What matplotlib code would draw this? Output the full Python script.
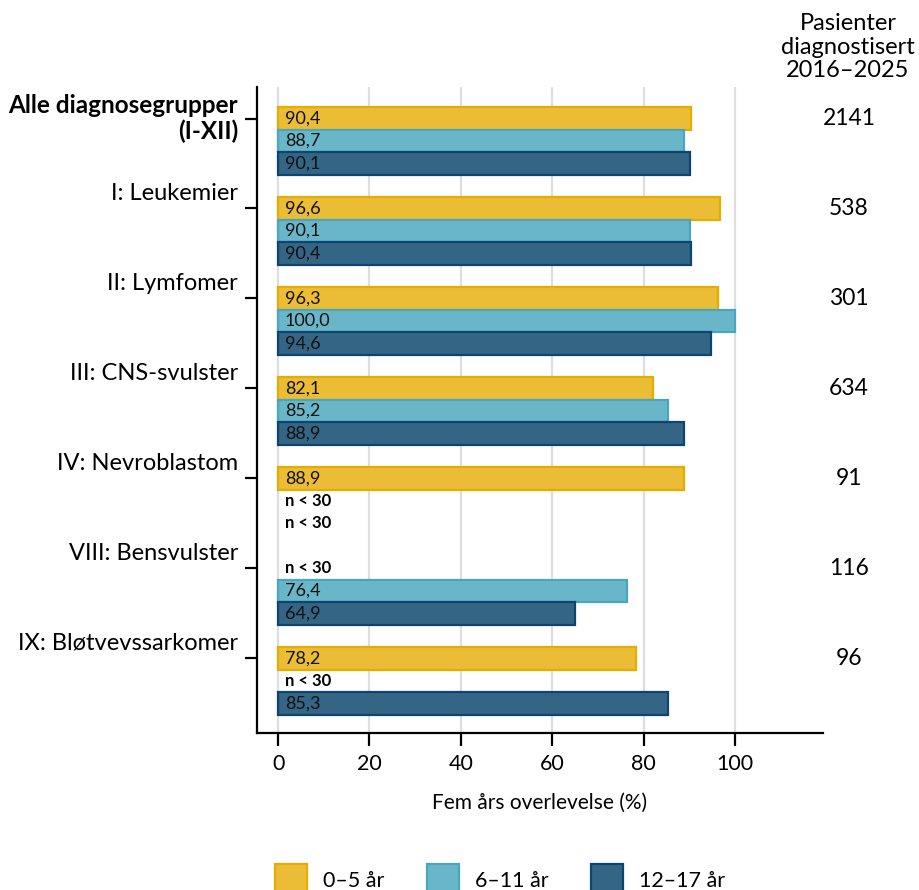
import matplotlib
matplotlib.use("Agg")
import matplotlib.pyplot as plt
import numpy as np
from matplotlib.patches import Patch
from matplotlib.transforms import offset_copy

plt.rcParams['font.family'] = ['Lato', 'DejaVu Sans']

categories = ["Alle diagnosegrupper\n(I-XII)", "I: Leukemier", "II: Lymfomer",
              "III: CNS-svulster", "IV: Nevroblastom", "VIII: Bensvulster",
              "IX: Bløtvevssarkomer"]
age_groups = ["0–5 år", "6–11 år", "12–17 år"]
surv_0_5 = [90.4, 96.6, 96.3, 82.1, 88.9, None, 78.2]
surv_6_11 = [88.7, 90.1, 100.0, 85.2, None, 76.4, None]
surv_12_17 = [90.1, 90.4, 94.6, 88.9, None, 64.9, 85.3]
patients = [2141, 538, 301, 634, 91, 116, 96]
x_ticks = [0, 20, 40, 60, 80, 100]

fills = ["#EBBD37", "#69B6C8", "#346584"]
edges = ["#E6AC00", "#4AA6C0", "#0E4470"]

fig = plt.figure(figsize=(9.19, 8.90), dpi=100)
ax = fig.add_axes([0.2797, 0.1764, 0.8955 - 0.2797, 0.9022 - 0.1764])

bar_h = 0.25
offsets = [-bar_h, 0.0, bar_h]
series = [surv_0_5, surv_6_11, surv_12_17]
y_base = np.arange(len(categories))

for k, vals in enumerate(series):
    for i, v in enumerate(vals):
        yc = y_base[i] + offsets[k]
        if v is None:
            ax.text(1.5, yc, "n < 30", ha="left", va="center",
                    fontsize=12, fontweight="bold", color="black", zorder=4)
            continue
        ax.barh(yc, v, height=bar_h, color=fills[k], edgecolor=edges[k],
                linewidth=1.6, zorder=3)
        ax.text(1.5, yc, f"{v:.1f}".replace(".", ","), ha="left", va="center",
                fontsize=13, color="#111111", zorder=4)

ax.set_xlim(-4.6, 119.2)
ax.set_ylim(6.58, -0.6)

# vertical grid
for xt in x_ticks:
    ax.axvline(xt, color="#DEDEDE", linewidth=1.6, zorder=1)

ax.set_xticks(x_ticks)
ax.set_xticklabels([str(t) for t in x_ticks], fontsize=15.5)
ax.tick_params(axis="x", length=9, width=1.6, pad=6, color="black")
ax.set_xlabel("Fem års overlevelse (%)", fontsize=15, labelpad=14)

tick_pos = y_base + offsets[0]
ax.set_yticks(tick_pos)
ax.set_yticklabels([])
ax.tick_params(axis="y", length=9, width=1.6, color="black")

# category labels
for i, cat in enumerate(categories):
    if i == 0:
        t = offset_copy(ax.get_yaxis_transform(), fig=fig, x=-19, y=0, units="dots")
        ax.text(0, tick_pos[i], cat, transform=t, ha="right", va="center",
                fontsize=17.5, fontweight="bold", linespacing=1.1)
    else:
        t = offset_copy(ax.get_yaxis_transform(), fig=fig, x=-19, y=15, units="dots")
        ax.text(0, tick_pos[i], cat, transform=t, ha="right", va="center",
                fontsize=17)

# patient counts
for i, n in enumerate(patients):
    ax.text(1.046, tick_pos[i], str(n), transform=ax.get_yaxis_transform(),
            ha="center", va="center", fontsize=16.5, clip_on=False)

fig.text(848 / 919, 1 - 47 / 890, "Pasienter\ndiagnostisert\n2016–2025",
         ha="center", va="center", fontsize=17, linespacing=1.12)

for side in ["top", "right"]:
    ax.spines[side].set_visible(False)
for side in ["left", "bottom"]:
    ax.spines[side].set_linewidth(1.6)
    ax.spines[side].set_color("black")

handles = [Patch(facecolor=fills[k], edgecolor=edges[k], linewidth=1.6,
                 label=age_groups[k]) for k in range(3)]
fig.legend(handles=handles, loc="center", bbox_to_anchor=(500 / 919, 1 - 880 / 890),
           ncol=3, frameon=False, fontsize=15.5, handlelength=1.5,
           handleheight=1.9, handletextpad=0.75, columnspacing=1.95)

fig.savefig("out.png", dpi=100)
